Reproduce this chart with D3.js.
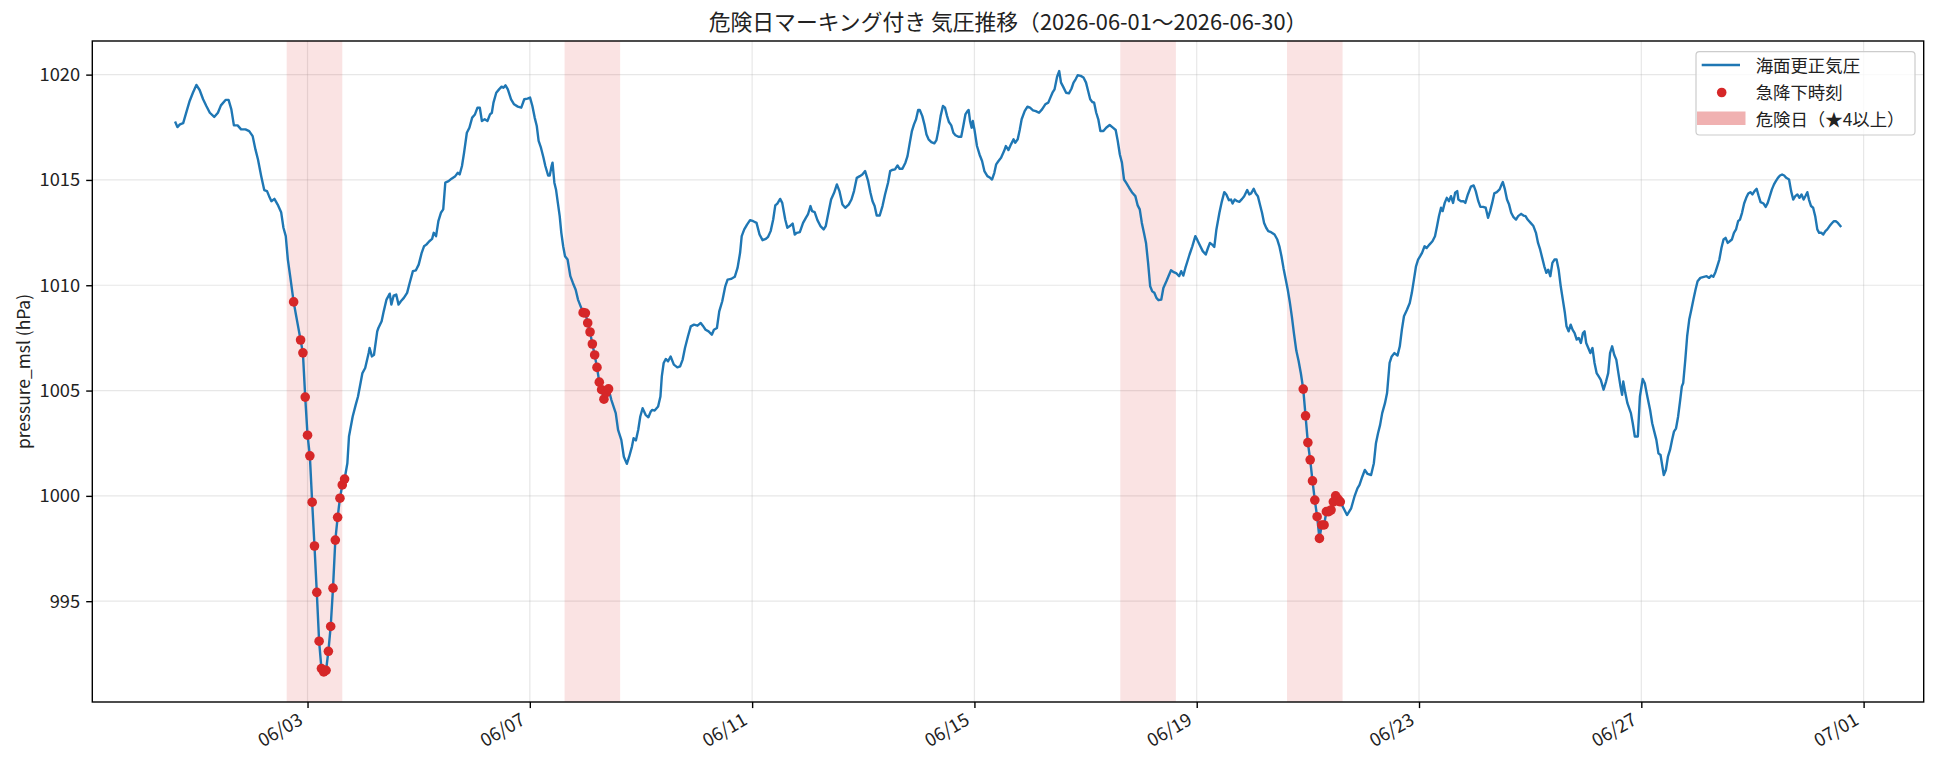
<!DOCTYPE html>
<html><head><meta charset="utf-8">
<script src="https://cdn.jsdelivr.net/npm/d3@7"></script>
<style>
html,body{margin:0;padding:0;background:#fff;}
svg{display:block;font-family:"Noto Sans CJK JP","Noto Sans",sans-serif;}
</style></head><body>
<svg id="chart" width="1937" height="767"></svg>
<script>
// ---- data ----
const seriesStartJST = "2026-06-01T00:00:00+09:00";
// [hours since 2026-06-01 00:00 JST, pressure_msl hPa]
const pressureSeries = [
[0,1017.72],[0.8,1017.51],[1.9,1017.64],[3.3,1017.70],[4.8,1018.27],[6.1,1018.75],[7.5,1019.14],[9,1019.51],[10.4,1019.27],[11.9,1018.83],
[13.3,1018.51],[14.8,1018.19],[16.7,1017.99],[18.3,1018.19],[19.6,1018.54],[21.6,1018.80],[22.9,1018.80],[24.1,1018.35],[25.2,1017.59],[26.8,1017.59],
[28.3,1017.40],[30.2,1017.40],[31.8,1017.32],[33.3,1017.08],[34.5,1016.45],[35.6,1015.97],[37,1015.18],[38.3,1014.52],[39.5,1014.47],[40.4,1014.23],
[41.4,1013.99],[42.7,1014.10],[44.1,1013.83],[45.6,1013.47],[46.6,1012.73],[47.6,1012.33],[48.5,1011.22],[49.5,1010.43],[51,1009.21],[52,1008.6],
[53,1008.0],[54,1007.40],[55,1006.79],[56,1004.69],[57,1002.88],[58,1001.90],[59,999.70],[60,997.62],[61,995.42],[62,993.10],
[63,991.80],[64,991.64],[65,991.72],[66,992.62],[67,993.80],[68,995.62],[69,997.90],[70,998.98],[71,999.89],[72,1000.52],
[73,1000.80],[74.2,1001.55],[74.9,1002.82],[76.5,1003.77],[77.8,1004.32],[78.8,1004.72],[80.7,1005.83],[81.9,1006.07],[83.4,1006.78],[83.8,1007.02],
[84.8,1006.62],[85.7,1006.70],[87.1,1007.81],[87.6,1007.97],[89,1008.29],[89.9,1008.76],[91.1,1009.32],[92.5,1009.60],[93.2,1009.08],[94.2,1009.51],
[95.3,1009.56],[96.3,1009.08],[97.3,1009.24],[98.6,1009.40],[100,1009.64],[101.1,1010.11],[102.5,1010.67],[103.8,1010.71],[105,1010.98],[106.3,1011.54],
[107.3,1011.85],[108.3,1011.93],[109.6,1012.09],[110.8,1012.20],[111.5,1012.49],[112.5,1012.33],[113.5,1013.04],[114.6,1013.44],[115.6,1013.60],[116.5,1014.87],
[117.9,1014.94],[119.2,1015.06],[120.8,1015.18],[121.9,1015.34],[122.7,1015.26],[123.7,1015.66],[124.6,1016.29],[125.8,1017.24],[126.9,1017.48],[128.1,1017.96],
[129.3,1018.11],[130.4,1018.43],[131.4,1018.43],[132.3,1017.80],[133.5,1017.88],[134.7,1017.80],[135.8,1018.11],[136.6,1018.19],[137.3,1018.67],[138.5,1019.14],
[139.7,1019.30],[140.8,1019.43],[141.6,1019.38],[142.5,1019.49],[143.5,1019.30],[144.9,1018.83],[146.2,1018.59],[147.8,1018.48],[149.3,1018.43],[150.6,1018.83],
[152,1018.86],[153.1,1018.91],[154.1,1018.51],[155.1,1017.96],[156,1017.56],[156.8,1016.85],[157.8,1016.53],[158.9,1016.05],[159.7,1015.66],[160.9,1015.21],
[161.6,1015.21],[162.4,1015.66],[162.8,1015.82],[163.6,1014.87],[164.3,1014.55],[165.1,1013.91],[165.9,1013.28],[166.6,1012.49],[167.4,1011.85],[168.2,1011.38],
[169.3,1011.22],[170.5,1010.43],[171.6,1010.11],[172.8,1009.79],[173.8,1009.32],[176,1008.70],[177,1008.68],[178,1008.21],[179,1007.78],[180,1007.21],
[181,1006.69],[182,1006.10],[183,1005.40],[184,1005.04],[185,1004.59],[186,1004.90],[187,1005.08],[188.2,1004.56],[190.1,1003.93],[191.1,1003.13],
[192.5,1002.66],[193.6,1001.86],[194.9,1001.52],[195.9,1001.86],[197.1,1002.34],[197.8,1002.74],[198.8,1002.63],[199.8,1003.13],[200.7,1003.77],[201.7,1004.16],
[203,1003.85],[204.2,1003.73],[205.2,1004.00],[205.9,1004.08],[206.9,1004.05],[208.4,1004.24],[209.4,1004.72],[210,1005.67],[210.8,1006.31],[211.7,1006.50],
[212.7,1006.39],[213.8,1006.62],[215.2,1006.23],[216.7,1006.10],[217.9,1006.15],[219,1006.47],[220,1007.02],[221.3,1007.58],[222.5,1008.05],[223.9,1008.13],
[225.4,1008.08],[226.8,1008.21],[227.7,1008.08],[228.9,1007.89],[230.2,1007.81],[231.6,1007.65],[232.5,1007.89],[233.8,1007.97],[234.8,1008.76],[236.1,1009.24],
[237.4,1009.95],[238.4,1010.27],[239.9,1010.30],[241.5,1010.40],[242.7,1010.82],[243.8,1011.54],[244.5,1012.33],[245.6,1012.65],[246.8,1012.88],[248.1,1013.09],
[249.5,1013.04],[250.9,1012.96],[252.2,1012.41],[253.5,1012.14],[254.9,1012.20],[255.9,1012.30],[257,1012.57],[258.1,1013.12],[259,1013.79],[259.9,1013.88],
[261.1,1014.10],[262,1013.91],[263.3,1013.12],[264.2,1012.73],[265.3,1012.81],[266.5,1012.93],[267.4,1012.41],[268.3,1012.49],[269.6,1012.52],[271,1012.96],
[272.2,1013.20],[273.1,1013.36],[274.2,1013.76],[274.9,1013.52],[276,1013.47],[277.2,1013.09],[278.5,1012.81],[279.9,1012.65],[280.8,1012.81],[282.1,1013.52],
[283.1,1014.07],[284.4,1014.39],[285.6,1014.79],[286.7,1014.47],[288,1013.83],[289.2,1013.68],[290.7,1013.83],[291.9,1014.07],[293,1014.47],[294.2,1015.10],
[295.5,1015.18],[296.6,1015.26],[297.8,1015.42],[299.1,1014.94],[300.1,1014.39],[301,1013.99],[301.9,1013.76],[302.8,1013.31],[304.1,1013.31],[305.3,1013.76],
[306.4,1014.31],[307.7,1014.87],[308.6,1015.42],[309.4,1015.47],[310.7,1015.50],[311.8,1015.69],[312.7,1015.53],[313.9,1015.53],[315.2,1015.82],[316.1,1016.13],
[317.1,1016.77],[318,1017.32],[318.9,1017.64],[319.8,1017.88],[320.7,1018.32],[321.4,1018.32],[322.5,1018.03],[323.4,1017.64],[324.3,1017.16],[325.2,1016.93],
[326.4,1016.80],[327.7,1016.74],[328.6,1016.89],[329.5,1017.40],[330.4,1018.03],[331.4,1018.51],[332.3,1018.43],[333.2,1018.03],[334,1017.75],[335,1017.59],
[335.9,1017.24],[336.8,1017.12],[338.1,1017.05],[339.3,1017.05],[340.2,1017.56],[341.1,1018.11],[342,1018.27],[342.5,1018.32],[343.1,1017.80],[343.8,1017.48],
[344.3,1017.80],[345,1017.40],[346.1,1016.61],[347.2,1016.21],[348.3,1015.90],[349.3,1015.42],[350.6,1015.18],[351.8,1015.10],[352.6,1015.02],[353.6,1015.34],
[354.4,1015.74],[355.4,1015.90],[356.5,1016.05],[357.8,1016.37],[358.6,1016.61],[359.7,1016.42],[360.8,1016.69],[361.9,1016.93],[362.6,1016.77],[363.7,1016.93],
[364.6,1017.40],[365.4,1017.88],[366.7,1018.27],[367.9,1018.48],[369,1018.43],[370.3,1018.30],[371.5,1018.27],[372.9,1018.19],[374.2,1018.35],[375.6,1018.59],
[376.9,1018.67],[377.8,1018.91],[378.7,1019.14],[379.6,1019.30],[380.7,1019.90],[381.6,1020.17],[382.4,1019.62],[383.3,1019.43],[384.6,1019.14],[385.8,1019.11],
[386.9,1019.33],[387.8,1019.62],[388.7,1019.78],[389.6,1019.97],[390.9,1019.94],[392.1,1019.86],[393.2,1019.62],[394.1,1019.22],[395,1018.83],[395.9,1018.70],
[396.7,1018.67],[397.6,1018.19],[398.5,1017.88],[399.4,1017.32],[400.7,1017.32],[401.9,1017.48],[403.4,1017.61],[404.8,1017.48],[406,1017.37],[406.9,1016.85],
[407.8,1016.21],[408.7,1015.82],[409.6,1015.02],[410.5,1014.87],[411.8,1014.63],[413.2,1014.39],[414.5,1014.23],[415.5,1013.79],[416.4,1013.60],[417.3,1012.96],
[418.2,1012.49],[419.1,1012.01],[420,1011.06],[420.9,1009.95],[421.8,1009.71],[422.7,1009.64],[423.6,1009.40],[424.5,1009.29],[425.7,1009.32],[426.6,1009.87],
[427.9,1010.19],[428.8,1010.43],[429.9,1010.71],[431.1,1010.62],[432.3,1010.56],[433.4,1010.43],[434.3,1010.67],[435.2,1010.46],[436.1,1010.82],[437,1011.14],
[437.9,1011.46],[439.1,1011.85],[440.4,1012.33],[441.3,1012.14],[442.4,1011.89],[443.6,1011.62],[444.9,1011.46],[445.9,1011.78],[446.7,1012.01],[447.7,1011.93],
[448.6,1011.82],[449.5,1012.65],[450.8,1013.44],[451.7,1013.91],[452.9,1014.42],[453.8,1014.31],[454.9,1014.04],[455.8,1014.07],[456.5,1013.88],[457.4,1014.07],
[458.5,1013.99],[459.4,1013.96],[460.6,1014.10],[461.5,1014.23],[462.8,1014.52],[463.7,1014.31],[464.5,1014.36],[465.6,1014.58],[466.5,1014.36],[467.4,1014.23],
[468.3,1013.83],[469.2,1013.44],[470.1,1012.96],[471,1012.73],[471.9,1012.57],[473.1,1012.52],[474.6,1012.41],[475.8,1012.17],[476.7,1011.85],[477.6,1011.38],
[478.5,1010.80],[479.4,1010.30],[480.3,1009.80],[481.2,1009.20],[482.1,1008.50],[483,1007.70],[484,1006.90],[485,1006.40],[486,1005.80],[487,1005.07],
[488,1003.80],[489,1002.53],[490,1001.71],[491,1000.71],[492,999.80],[493,999.01],[494,997.98],[495,998.62],[496,998.62],[497,999.25],
[498,999.25],[499,999.33],[500,999.72],[501,1000.00],[502,999.85],[503,999.72],[505.9,999.09],[507.7,999.41],[509.1,999.96],[510.4,1000.36],
[511.3,1000.52],[512.5,1000.91],[513.6,1001.23],[514.8,1001.04],[516.3,1000.99],[517.5,1001.55],[518.4,1002.50],[519.3,1002.97],[520.2,1003.37],[521.1,1003.93],
[522.3,1004.40],[523.2,1004.88],[524.3,1006.31],[525.2,1006.62],[526.4,1006.78],[527.7,1006.66],[528.7,1007.10],[529.6,1007.89],[530.5,1008.53],[531.8,1008.84],
[533,1009.16],[533.9,1009.64],[534.8,1010.27],[535.7,1010.90],[536.6,1011.22],[537.5,1011.38],[538.3,1011.54],[539.4,1011.85],[540.3,1011.77],[541.5,1011.93],
[542.8,1012.09],[543.9,1012.33],[544.8,1012.81],[545.6,1013.28],[546.5,1013.68],[547.2,1013.52],[548.1,1013.91],[549,1014.15],[549.9,1013.99],[550.8,1014.23],
[551.7,1013.91],[552.6,1014.39],[553.5,1014.47],[554,1014.07],[555.1,1013.99],[556.2,1013.99],[557,1013.91],[558.1,1014.31],[559.4,1014.68],[560.6,1014.74],
[561.5,1014.47],[562.6,1013.99],[563.5,1013.72],[564.7,1013.72],[565.8,1013.68],[566.8,1013.20],[567.7,1013.52],[568.6,1013.91],[569.5,1014.36],[570.6,1014.42],
[571.8,1014.55],[572.7,1014.79],[573.2,1014.90],[574.1,1014.55],[575,1014.07],[575.9,1013.83],[576.8,1013.44],[577.7,1013.25],[578.9,1013.12],[579.8,1013.28],
[581.1,1013.39],[582.1,1013.31],[583,1013.28],[583.9,1013.12],[585.2,1012.96],[586.4,1012.81],[587.5,1012.49],[588.4,1012.01],[589.3,1011.70],[590.2,1011.30],
[591.1,1010.90],[592,1010.59],[592.8,1010.74],[593.7,1010.43],[594.6,1011.06],[595.5,1011.22],[596.4,1011.22],[597.3,1010.74],[598.2,1009.95],[599.1,1009.32],
[600,1008.68],[600.7,1008.05],[601.6,1007.81],[602.5,1008.13],[603.3,1007.89],[604.2,1007.73],[605.1,1007.42],[606,1007.50],[606.9,1007.26],[607.8,1007.73],
[608.5,1007.81],[609.2,1007.26],[610.1,1007.02],[611,1006.78],[611.9,1007.02],[612.8,1006.31],[613.7,1005.83],[614.6,1005.67],[615.5,1005.51],[616.7,1005.04],
[617.8,1005.44],[618.7,1005.83],[619.5,1006.78],[620.4,1007.10],[621.3,1006.70],[622.2,1006.47],[623.1,1005.83],[624,1005.20],[624.7,1004.80],[625.2,1005.43],
[626.1,1004.88],[627,1004.40],[628.5,1003.93],[629.3,1003.45],[630.2,1002.82],[631.5,1002.82],[632.4,1004.72],[633.6,1005.55],[634.5,1005.35],[635.6,1004.72],
[636.8,1004.08],[637.7,1003.45],[638.6,1003.05],[639.5,1002.66],[640.4,1002.02],[641.3,1001.94],[642.7,1000.99],[643.6,1001.23],[644.5,1001.86],[645.4,1002.18],
[646.3,1002.66],[647.1,1003.05],[648,1003.21],[648.9,1003.77],[649.8,1004.56],[650.5,1005.20],[651.1,1005.36],[652,1006.47],[652.8,1007.58],[653.7,1008.37],
[654.6,1008.84],[655.5,1009.32],[656.4,1009.79],[657.3,1010.19],[658.5,1010.35],[660,1010.40],[661.2,1010.43],[662.3,1010.35],[663.2,1010.46],[664.1,1010.40],
[665,1010.62],[665.8,1010.90],[666.7,1011.22],[667.6,1011.77],[668.5,1012.17],[669.4,1012.25],[670.3,1012.01],[671.2,1012.09],[672.1,1012.17],[673,1012.49],
[673.9,1012.65],[674.8,1013.04],[675.6,1013.12],[676.5,1013.44],[677.4,1013.88],[678.3,1014.15],[679.2,1014.36],[680.1,1014.42],[681,1014.31],[681.9,1014.47],
[682.8,1014.58],[683.7,1014.23],[684.5,1013.95],[685.8,1013.88],[686.7,1013.72],[687.6,1013.91],[688.5,1014.23],[689.4,1014.55],[690.3,1014.79],[691.1,1014.94],
[692,1015.10],[692.9,1015.21],[693.8,1015.26],[694.7,1015.21],[695.6,1015.10],[696.8,1015.02],[697.7,1014.47],[698.6,1014.07],[699.5,1014.23],[700.4,1014.31],
[701.3,1014.15],[702.2,1014.31],[703.1,1014.07],[704,1014.26],[704.7,1014.42],[705.4,1014.07],[706.3,1013.76],[707.2,1013.68],[708.1,1013.28],[709,1012.65],
[709.8,1012.49],[710.7,1012.49],[711.6,1012.41],[712.5,1012.57],[713.3,1012.65],[714.3,1012.81],[715.2,1012.93],[716.1,1013.04],[717,1013.04],[717.9,1012.96],
[719,1012.81]
];
// hours (since start, JST) flagged as rapid-drop times
const dropHours = [51,54,55,56,57,58,59,60,61,62,63,64,65,66,67,68,69,70,71,72,73,
  176,177,178,179,180,181,182,183,184,185,186,187,
  487,488,489,490,491,492,493,494,495,496,497,498,499,500,501,502,503];
const dangerDays = ["2026-06-03","2026-06-08","2026-06-18","2026-06-21"];
const xTickDates = ["2026-06-03","2026-06-07","2026-06-11","2026-06-15","2026-06-19","2026-06-23","2026-06-27","2026-07-01"];
const yTickValues = [995,1000,1005,1010,1015,1020];
const titleText = "危険日マーキング付き 気圧推移（2026-06-01～2026-06-30）";
const yAxisLabel = "pressure_msl (hPa)";
const legendLabels = ["海面更正気圧","急降下時刻","危険日（★4以上）"];

// ---- layout / style ----
const M = {left:92.3, right:1923.7, top:41, bottom:702};
const LINE_COLOR = "#1f77b4", DOT_COLOR = "#d62728";
const FS = 17.4, TICK_FS = 18.3, TITLE_FS = 21.8;

const svg = d3.select("#chart");
const t0 = new Date(seriesStartJST);
const toDate = h => new Date(t0.getTime() + h*3600e3);
const data = pressureSeries.map(([h,v]) => ({h, t: toDate(h), v}));
const byHour = new Map(data.map(d => [d.h, d]));
const drops = dropHours.map(h => byHour.get(h)).filter(Boolean);

const tMin = data[0].t, tMax = data[data.length-1].t, span = tMax - tMin;
const x = d3.scaleUtc()
  .domain([new Date(+tMin - 0.05*span), new Date(+tMax + 0.05*span)])
  .range([M.left, M.right]);
const vmin = d3.min(data, d=>d.v), vmax = d3.max(data, d=>d.v), vs = vmax - vmin;
const y = d3.scaleLinear().domain([vmin - 0.05*vs, vmax + 0.05*vs]).range([M.bottom, M.top]);

const xTicks = xTickDates.map(s => new Date(s + "T00:00:00Z"));

// clip
svg.append("defs").append("clipPath").attr("id","plotclip")
  .append("rect").attr("x",M.left).attr("y",M.top)
  .attr("width",M.right-M.left).attr("height",M.bottom-M.top);

// grid
const grid = svg.append("g").attr("stroke","#b0b0b0").attr("stroke-opacity",0.3).attr("stroke-width",1.2);
grid.selectAll("line.gx").data(xTicks).join("line").attr("class","gx")
  .attr("x1",d=>x(d)).attr("x2",d=>x(d)).attr("y1",M.top).attr("y2",M.bottom);
grid.selectAll("line.gy").data(yTickValues).join("line").attr("class","gy")
  .attr("x1",M.left).attr("x2",M.right).attr("y1",d=>y(d)).attr("y2",d=>y(d));

// danger-day bands (JST calendar days)
svg.append("g").attr("clip-path","url(#plotclip)")
  .selectAll("rect").data(dangerDays).join("rect")
  .attr("x", d => x(new Date(d+"T00:00:00+09:00")))
  .attr("width", d => x(new Date(+new Date(d+"T00:00:00+09:00") + 864e5)) - x(new Date(d+"T00:00:00+09:00")))
  .attr("y", M.top).attr("height", M.bottom - M.top)
  .attr("fill", DOT_COLOR).attr("fill-opacity", 0.13);

// pressure line
svg.append("path").datum(data).attr("clip-path","url(#plotclip)")
  .attr("fill","none").attr("stroke",LINE_COLOR).attr("stroke-width",2.4)
  .attr("stroke-linejoin","round").attr("stroke-linecap","square")
  .attr("d", d3.line().x(d=>x(d.t)).y(d=>y(d.v)));

// drop markers
svg.append("g").selectAll("circle").data(drops).join("circle")
  .attr("cx", d=>x(d.t)).attr("cy", d=>y(d.v)).attr("r", 4.8)
  .attr("fill", DOT_COLOR);

// axes
const xAxis = svg.append("g").attr("transform",`translate(0,${M.bottom})`)
  .call(d3.axisBottom(x).tickValues(xTicks).tickFormat(d3.utcFormat("%m/%d")).tickSize(6.1).tickSizeOuter(0));
xAxis.select(".domain").remove();
xAxis.selectAll(".tick line").attr("stroke","#000").attr("stroke-width",1.4);
xAxis.selectAll(".tick text")
  .attr("font-size",TICK_FS).attr("font-family",'"Noto Sans CJK JP",sans-serif').attr("fill","#222")
  .attr("text-anchor","end").attr("x",0).attr("y",0).attr("dy",null)
  .attr("transform","translate(-4,21.5) rotate(-30)");

const yAxis = svg.append("g").attr("transform",`translate(${M.left},0)`)
  .call(d3.axisLeft(y).tickValues(yTickValues).tickFormat(d3.format("d")).tickSize(6.1).tickPadding(6.1).tickSizeOuter(0));
yAxis.select(".domain").remove();
yAxis.selectAll(".tick line").attr("stroke","#000").attr("stroke-width",1.4);
yAxis.selectAll(".tick text").attr("font-size",TICK_FS).attr("font-family",'"Noto Sans CJK JP",sans-serif').attr("fill","#222");

// spines
svg.append("rect").attr("x",M.left).attr("y",M.top)
  .attr("width",M.right-M.left).attr("height",M.bottom-M.top)
  .attr("fill","none").attr("stroke","#000").attr("stroke-width",1.4);

// title
svg.append("text").attr("x",(M.left+M.right)/2).attr("y",29.5)
  .attr("text-anchor","middle").attr("font-size",TITLE_FS).attr("fill","#222")
  .text(titleText);

// y label
svg.append("text").attr("transform",`translate(30,${(M.top+M.bottom)/2}) rotate(-90)`)
  .attr("text-anchor","middle").attr("font-size",FS).attr("fill","#222")
  .text(yAxisLabel);

// legend
const lg = svg.append("g");
lg.append("rect").attr("x",1696).attr("y",51.7).attr("width",219).attr("height",83.3)
  .attr("rx",3.5).attr("fill","#fff").attr("fill-opacity",0.8)
  .attr("stroke","#cccccc").attr("stroke-width",1.2);
lg.append("line").attr("x1",1701.7).attr("x2",1740).attr("y1",65).attr("y2",65)
  .attr("stroke",LINE_COLOR).attr("stroke-width",2.4);
lg.append("circle").attr("cx",1721.7).attr("cy",92.5).attr("r",4.8).attr("fill",DOT_COLOR);
lg.append("rect").attr("x",1697).attr("y",111.5).attr("width",48.5).attr("height",13.5)
  .attr("fill",DOT_COLOR).attr("fill-opacity",0.36);
const legendY = [72, 98.5, 125.5];
lg.selectAll("text").data(legendLabels).join("text")
  .attr("x",1755.7).attr("y",(d,i)=>legendY[i]).attr("font-size",FS).attr("fill","#222")
  .text(d=>d);
</script>
</body></html>
